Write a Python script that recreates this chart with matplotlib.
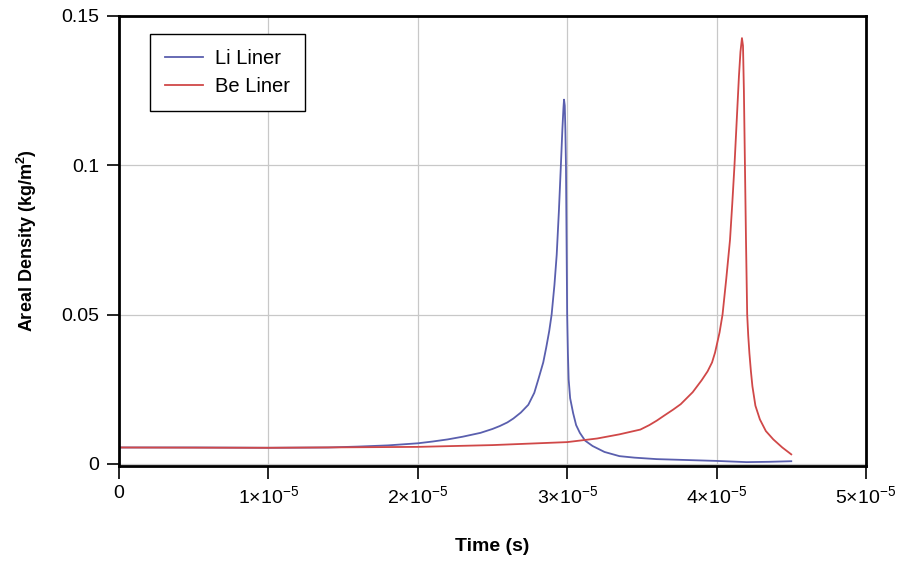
import matplotlib
matplotlib.use('Agg')
import matplotlib.pyplot as plt
from matplotlib.ticker import FuncFormatter
import numpy as np

# --- data (time in units of 1e-5 s) ---
li_time = [0, 0.5, 1.0, 1.4, 1.6, 1.8, 2.0, 2.1, 2.2, 2.3, 2.42, 2.5, 2.55, 2.6, 2.64,
           2.69, 2.74, 2.78, 2.807, 2.84, 2.86, 2.88, 2.896, 2.915, 2.93, 2.945, 2.958,
           2.968, 2.975, 2.979, 2.984, 2.988, 2.992, 2.996, 3.0, 3.005, 3.01, 3.02,
           3.04, 3.06, 3.085, 3.12, 3.17, 3.25, 3.35, 3.45, 3.6, 3.8, 4.0, 4.2, 4.35, 4.5]
li_density = [0.0055, 0.0055, 0.0054, 0.0055, 0.0058, 0.0062, 0.0069, 0.0075, 0.0082,
              0.0091, 0.0104, 0.0117, 0.0127, 0.0139, 0.0152, 0.0172, 0.0198, 0.0238,
              0.0283, 0.034, 0.039, 0.0445, 0.05, 0.06, 0.07, 0.085, 0.1, 0.112, 0.119,
              0.122, 0.12, 0.112, 0.1, 0.075, 0.05, 0.037, 0.0283, 0.022, 0.017, 0.013,
              0.0104, 0.0078, 0.006, 0.004, 0.0026, 0.0021, 0.0016, 0.0013, 0.001,
              0.0006, 0.0007, 0.0009]

be_time = [0, 1.0, 2.0, 2.5, 3.0, 3.2, 3.35, 3.49, 3.55, 3.6, 3.65, 3.71, 3.76, 3.8,
           3.84, 3.87, 3.9, 3.94, 3.97, 3.99, 4.02, 4.04, 4.065, 4.09, 4.105, 4.12,
           4.135, 4.15, 4.16, 4.17, 4.177, 4.183, 4.19, 4.197, 4.205, 4.212, 4.22,
           4.23, 4.24, 4.26, 4.29, 4.33, 4.38, 4.44, 4.5]
be_density = [0.0055, 0.0054, 0.0057, 0.0063, 0.0073, 0.0085, 0.0099, 0.0115, 0.013,
              0.0145, 0.0162, 0.0182, 0.02, 0.022, 0.024, 0.026, 0.028, 0.031, 0.034,
              0.0373, 0.044, 0.05, 0.062, 0.075, 0.087, 0.1, 0.115, 0.13, 0.138,
              0.1426, 0.14, 0.125, 0.1, 0.075, 0.05, 0.043, 0.037, 0.031, 0.026,
              0.0195, 0.0149, 0.011, 0.0082, 0.0055, 0.0032]

x_ticks = [0, 1e-5, 2e-5, 3e-5, 4e-5, 5e-5]
y_ticks = [0, 0.05, 0.1, 0.15]
# --- end of data section ---

plt.rcParams['font.family'] = ['Liberation Sans', 'DejaVu Sans']
plt.rcParams['mathtext.fontset'] = 'custom'
plt.rcParams['mathtext.rm'] = 'Liberation Sans'
plt.rcParams['mathtext.it'] = 'Liberation Sans:italic'
plt.rcParams['mathtext.bf'] = 'Liberation Sans:bold'

fig = plt.figure(figsize=(9.06, 5.63), dpi=100)
ax = fig.add_axes([0.1313, 0.1723, 0.8245, 0.7993])

ax.plot(np.array(li_time) * 1e-5, li_density, color='#5a5fae', lw=1.3, label='Li Liner')
ax.plot(np.array(be_time) * 1e-5, be_density, color='#d04848', lw=1.3, label='Be Liner')

ax.set_xlim(0, 5e-5)
ax.set_ylim(-0.0007, 0.15)
ax.set_xticks(x_ticks)
ax.set_yticks(y_ticks)


def sci(v, pos):
    if v == 0:
        return '0'
    m = int(round(v / 1e-5))
    return r'$%d{\times}10^{-5}$' % m


ax.xaxis.set_major_formatter(FuncFormatter(sci))
ax.yaxis.set_major_formatter(FuncFormatter(lambda v, p: '0' if v == 0 else ('%g' % v)))

ax.grid(True, color='#c8c8c8', lw=0.9)
ax.set_axisbelow(True)
for s in ax.spines.values():
    s.set_linewidth(2.0)
ax.tick_params(direction='out', length=9, width=1.2, labelsize=14, pad=5)

ax.set_xlabel('Time (s)', fontsize=14, fontweight='bold', labelpad=22)
ax.set_ylabel(r'Areal Density (kg/m$^\mathbf{2}$)', fontsize=13, fontweight='bold', labelpad=16)

leg = ax.legend(loc='upper left', bbox_to_anchor=(0.028, 0.982), fontsize=14.5,
                fancybox=False, framealpha=1, edgecolor='black', handlelength=1.9,
                handletextpad=0.6, borderpad=0.75, labelspacing=0.45)
leg.get_frame().set_linewidth(1.0)

fig.savefig('out.png', dpi=100)
